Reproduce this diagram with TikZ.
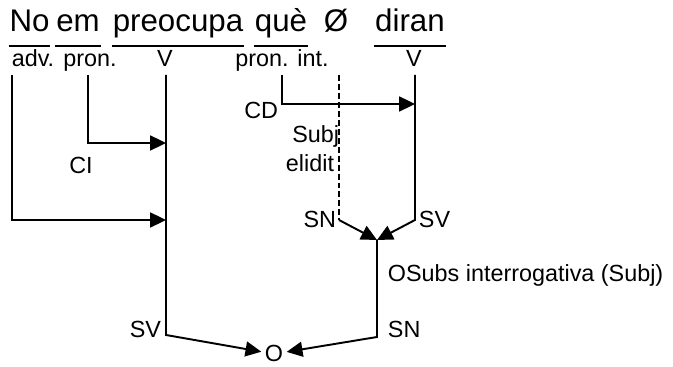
\documentclass[tikz,border=0pt]{standalone}
\usepackage{fontspec}
\setmainfont{Liberation Sans}
\usetikzlibrary{arrows.meta}

\begin{document}
\begin{tikzpicture}[
    x=0.02cm, y=-0.02cm, % one unit = one pixel of the sketch
    line width=1.1pt,
    word/.style={inner sep=0pt, anchor=base, font=\fontsize{17.8}{21}\selectfont},
    cat/.style={inner sep=0pt, font=\fontsize{13.3}{16}\selectfont},
    uline/.style={line width=1.2pt},
    elided/.style={line width=0.9pt, dash pattern=on 3.4pt off 1.7pt},
    >={Triangle[length=9pt,width=8.5pt]}
]
\useasboundingbox (0,0) rectangle (673,367);

% Sentence
\node[word] (no) at (29.5,32) {No};
\node[word] (em) at (78,32) {em};
\node[word] (preocupa) at (178,32) {preocupa};
\node[word] (que) at (281,32) {què};
\node[word] (zero) at (336,32) {Ø};
\node[word] (diran) at (410,32) {diran};

\draw[uline] ([yshift=-7.9pt]no.base west) -- ([yshift=-7.9pt]no.base east);
\draw[uline] ([yshift=-7.9pt]em.base west) -- ([yshift=-7.9pt]em.base east);
\draw[uline] ([yshift=-7.9pt]preocupa.base west) -- ([yshift=-7.9pt]preocupa.base east);
\draw[uline] ([yshift=-7.9pt]que.base west) -- ([yshift=-7.9pt]que.base east);
\draw[uline] ([yshift=-7.9pt]diran.base west) -- ([yshift=-7.9pt]diran.base east);

% Categories
\node[cat, anchor=base] (adv) at (33,67) {adv.};
\node[cat, anchor=base] (pron) at (90,67) {pron.};
\node[cat, anchor=base] (v1) at (165,67) {V};
\node[cat, anchor=base] (pint) at (282,67) {pron. int.};
\node[cat, anchor=base] (v2) at (414,67) {V};

% Points of the tree
\coordinate (advtop) at (12,75);
\coordinate (prontop) at (88,75);
\coordinate (v1top) at (166,75);
\coordinate (v1ci) at (166,143);
\coordinate (v1cc) at (166,220);
\coordinate (sv1) at (166,335);
\coordinate (pinttop) at (282,75);
\coordinate (v2cd) at (415,104);
\coordinate (subjtop) at (339,75);
\coordinate (sn2) at (339,220);
\coordinate (v2top) at (415,75);
\coordinate (sv2) at (415,220);
\coordinate (join) at (377,240);
\coordinate (sn1) at (377,337);

\node[cat, anchor=base, inner sep=1.5pt] (o) at (274,362) {O};

% Function labels
\node[cat, anchor=center] (ci) at (81,165) {CI};
\node[cat, anchor=east] (cd) at (279,110) {CD};
\node[cat, anchor=base east] (subj) at (340,143) {Subj};
\node[cat, anchor=base east] (elidit) at (335,172) {elidit};
\node[cat, anchor=east] (snl2) at (337,219) {SN};
\node[cat, anchor=west] (svl2) at (418,219) {SV};
\node[cat, anchor=base west] (osubs) at (387,282) {OSubs interrogativa (Subj)};
\node[cat, anchor=base west] (snl1) at (387,338) {SN};
\node[cat, anchor=base east] (svl1) at (162,338) {SV};

% Edges
\draw[->] (advtop) |- (v1cc);
\draw[->] (prontop) |- (v1ci);
\draw[->] (v1top) -- (sv1) -- (o);
\draw[->] (pinttop) |- (v2cd);
\draw[elided] (subjtop) -- (sn2);
\draw[->] (sn2) -- (join);
\draw[->] (v2top) -- (sv2) -- (join);
\draw[->] (join) -- (sn1) -- (o);

\end{tikzpicture}
\end{document}
